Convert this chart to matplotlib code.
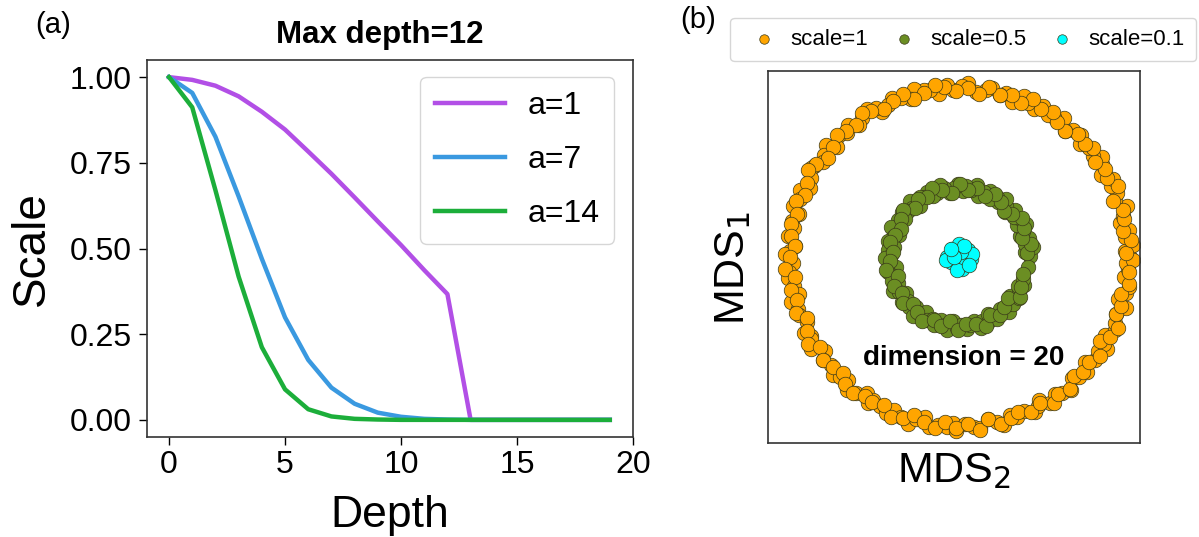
import numpy as np
import matplotlib
matplotlib.use("Agg")
import matplotlib.pyplot as plt

plt.rcParams['font.family'] = ['Liberation Sans', 'DejaVu Sans']

#%% data for panel (a)
depth = list(range(20))
scale_a1 = [1.0, 0.992, 0.975, 0.944, 0.899, 0.847, 0.783, 0.718, 0.649, 0.579, 0.51, 0.437, 0.367,
            0.0, 0.0, 0.0, 0.0, 0.0, 0.0, 0.0]
scale_a7 = [1.0, 0.954, 0.826, 0.652, 0.47, 0.299, 0.175, 0.094, 0.047, 0.021, 0.009, 0.003, 0.001,
            0.0, 0.0, 0.0, 0.0, 0.0, 0.0, 0.0]
scale_a14 = [1.0, 0.912, 0.67, 0.418, 0.212, 0.089, 0.031, 0.01, 0.003, 0.001, 0.0, 0.0, 0.0,
             0.0, 0.0, 0.0, 0.0, 0.0, 0.0, 0.0]
line_labels = ["a=1", "a=7", "a=14"]
line_colors = ["#b24fe6", "#3a99e0", "#1cae3a"]

#%% data for panel (b): MDS points read off as (angle in degrees, radius)
orange_deg = [0, 2, 4, 7, 9, 12, 14, 17, 20, 22, 25, 27,
              30, 33, 35, 37, 40, 43, 45, 48, 50, 53, 56, 58,
              61, 63, 66, 68, 71, 74, 76, 79, 81, 84, 87, 89,
              92, 94, 97, 100, 102, 105, 107, 110, 113, 115, 118, 119,
              122, 125, 127, 130, 132, 135, 138, 140, 143, 145, 148, 149,
              152, 155, 157, 160, 163, 165, 168, 170, 173, 176, 178, 179,
              182, 185, 187, 190, 193, 195, 198, 200, 203, 206, 208, 209,
              212, 215, 217, 220, 223, 225, 228, 230, 233, 236, 238, 239,
              242, 245, 247, 250, 253, 255, 258, 260, 263, 266, 268, 269,
              272, 275, 277, 280, 283, 285, 288, 290, 293, 296, 298, 299,
              302, 305, 307, 310, 313, 315, 318, 320, 323, 326, 328, 329,
              332, 335, 337, 340, 343, 345, 348, 350, 353, 356, 358, 359,
              1.5, 5.5, 9, 13, 16, 20, 24, 28, 31, 35, 39, 42,
              46, 50, 54, 57, 61, 65, 68, 72, 76, 80, 83, 87,
              91, 95, 98, 102, 106, 109, 113, 117, 121, 124, 128, 132,
              135, 139, 143, 147, 150, 154, 158, 161, 165, 169, 173, 176,
              180, 184, 187, 191, 195, 199, 202, 206, 210, 213, 217, 221,
              225, 228, 232, 236, 239, 243, 247, 251, 254, 258, 262, 265,
              269, 273, 277, 280, 284, 288, 291, 295, 299, 303, 306, 310,
              314, 317, 321, 325, 329, 332, 336, 340, 343, 347, 351, 355]
orange_r = [1.01, 0.98, 1.03, 0.99, 1.02, 0.97, 1.00, 1.04, 0.98, 1.01, 0.99, 1.02,
            0.97, 1.01, 1.03, 0.99, 1.00, 0.98, 1.02, 1.01, 0.97, 1.03, 1.00, 0.99,
            1.02, 0.98, 1.00, 1.03, 0.97, 1.01, 0.99, 1.02, 1.00, 0.98, 1.03, 1.01,
            0.99, 1.02, 0.97, 1.00, 1.01, 1.03, 0.98, 1.00, 1.02, 0.99, 0.97, 1.01,
            1.03, 1.00, 0.98, 1.02, 0.99, 1.01, 0.97, 1.03, 1.00, 0.98, 1.01, 1.02,
            0.99, 0.97, 1.02, 1.00, 1.03, 0.98, 1.01, 0.99, 1.02, 0.97, 1.00, 1.03,
            0.98, 1.01, 1.02, 0.99, 0.97, 1.03, 1.00, 1.01, 0.98, 1.02, 0.99, 1.00,
            1.03, 0.97, 1.01, 0.99, 1.02, 1.00, 0.98, 1.03, 1.01, 0.97, 1.02, 0.99,
            1.00, 1.02, 0.98, 1.01, 1.03, 0.99, 0.97, 1.02, 1.00, 1.01, 0.98, 1.03,
            0.99, 1.01, 1.02, 0.97, 1.00, 1.03, 0.98, 1.01, 0.99, 1.02, 1.00, 0.97,
            1.02, 0.99, 1.01, 1.03, 0.98, 1.00, 1.02, 0.97, 1.01, 0.99, 1.03, 1.00,
            0.98, 1.02, 1.00, 0.99, 1.03, 0.97, 1.01, 1.02, 0.98, 1.00, 0.99, 1.03,
            0.99, 1.02, 0.98, 1.00, 1.01, 0.97, 1.03, 0.99, 1.01, 0.98, 1.02, 1.00,
            1.01, 0.97, 0.99, 1.02, 1.00, 1.03, 0.98, 1.01, 0.99, 1.02, 0.97, 1.00,
            0.98, 1.01, 1.03, 0.99, 0.97, 1.02, 1.00, 0.98, 1.01, 1.03, 0.99, 1.00,
            1.02, 0.99, 0.97, 1.01, 1.03, 1.00, 0.98, 1.02, 0.99, 1.01, 1.00, 0.97,
            1.00, 1.03, 0.98, 1.01, 0.99, 1.02, 0.97, 1.00, 1.03, 0.98, 1.01, 0.99,
            0.97, 1.01, 1.02, 0.99, 1.00, 0.98, 1.03, 1.01, 0.97, 1.00, 1.02, 0.98,
            1.01, 0.99, 1.03, 0.97, 1.02, 1.00, 0.98, 1.01, 0.99, 1.03, 1.00, 1.02,
            0.98, 1.00, 0.99, 1.02, 0.97, 1.01, 1.03, 0.99, 1.00, 0.98, 1.02, 1.01]

green_deg = [1, 4, 8, 11, 15, 19, 22, 26, 29, 33, 36, 40, 44, 47, 51, 55,
             58, 62, 65, 69, 73, 76, 80, 84, 87, 91, 94, 98, 102, 105, 109, 113,
             116, 120, 123, 127, 131, 134, 138, 142, 145, 149, 152, 156, 160, 163, 167, 171,
             174, 178, 181, 185, 189, 192, 196, 200, 203, 207, 210, 214, 218, 221, 225, 229,
             232, 236, 239, 243, 247, 250, 254, 258, 261, 265, 268, 272, 276, 279, 283, 287,
             290, 294, 297, 301, 305, 308, 312, 316, 319, 323, 326, 330, 334, 337, 341, 352,
             3, 10, 17, 24, 32, 39, 46, 53, 60, 67, 75, 82,
             89, 96, 104, 111, 118, 125, 132, 140, 147, 154, 161, 168,
             176, 183, 190, 197, 204, 212, 219, 226, 233, 240, 248, 255,
             262, 269, 276, 284, 291, 298, 305, 312, 320, 327, 334, 345]
green_r = [0.42, 0.39, 0.44, 0.40, 0.43, 0.38, 0.41, 0.44, 0.39, 0.42, 0.40, 0.43,
           0.38, 0.41, 0.44, 0.40, 0.42, 0.39, 0.43, 0.41, 0.38, 0.44, 0.40, 0.42,
           0.39, 0.43, 0.41, 0.38, 0.42, 0.44, 0.40, 0.39, 0.43, 0.41, 0.42, 0.38,
           0.44, 0.40, 0.41, 0.43, 0.39, 0.42, 0.40, 0.44, 0.38, 0.41, 0.43, 0.39,
           0.42, 0.40, 0.44, 0.41, 0.38, 0.43, 0.40, 0.42, 0.39, 0.44, 0.41, 0.38,
           0.43, 0.40, 0.42, 0.39, 0.44, 0.41, 0.38, 0.42, 0.40, 0.43, 0.39, 0.41,
           0.44, 0.38, 0.42, 0.40, 0.43, 0.41, 0.39, 0.44, 0.40, 0.42, 0.38, 0.43,
           0.41, 0.39, 0.44, 0.40, 0.42, 0.38, 0.43, 0.41, 0.39, 0.42, 0.40, 0.41,
           0.40, 0.43, 0.39, 0.42, 0.44, 0.40, 0.38, 0.41, 0.43, 0.39, 0.42, 0.40,
           0.43, 0.38, 0.41, 0.44, 0.40, 0.42, 0.39, 0.43, 0.41, 0.38, 0.40, 0.42,
           0.39, 0.41, 0.44, 0.38, 0.42, 0.40, 0.43, 0.39, 0.41, 0.44, 0.40, 0.42,
           0.38, 0.43, 0.40, 0.41, 0.44, 0.39, 0.42, 0.40, 0.38, 0.43, 0.41, 0.39]

cyan_x = [0.00, 0.04, -0.04, 0.07, -0.07, 0.02, -0.02, 0.05, -0.05, 0.00,
          0.04, -0.04, 0.075, -0.075, 0.01, -0.01, 0.03, -0.03, 0.06, -0.05]
cyan_y = [0.00, 0.05, 0.05, -0.01, 0.00, -0.07, -0.05, 0.04, -0.03, 0.075,
          -0.04, 0.01, 0.02, -0.02, 0.03, -0.075, 0.065, 0.00, -0.05, 0.05]

scatter_labels = ["scale=1", "scale=0.5", "scale=0.1"]
scatter_colors = ["#ffa500", "#6b8e23", "#00ffff"]

#%% figure
fig = plt.figure(figsize=(11.99, 5.37), dpi=100)

# ---------- panel (a) ----------
ax1 = fig.add_axes([147/1199, 1 - 437/537, 486/1199, 377/537])
for vals, lab, col in zip([scale_a1, scale_a7, scale_a14], line_labels, line_colors):
    ax1.plot(depth, vals, color=col, lw=3.2, label=lab)
ax1.set_ylim(-0.05, 1.05)
ax1.set_xticks([0, 5, 10, 15, 20])
ax1.set_yticks([0.0, 0.25, 0.5, 0.75, 1.0])
ax1.set_yticklabels(["0.00", "0.25", "0.50", "0.75", "1.00"])
ax1.tick_params(labelsize=23, length=6, width=1)
ax1.tick_params(axis='y', pad=5)
ax1.set_xlabel("Depth", fontsize=32, labelpad=11)
ax1.set_ylabel("Scale", fontsize=33, labelpad=11)
ax1.set_title("Max depth=12", fontsize=22.5, fontweight='bold', pad=12,
              x=(380 - 147) / 486)
for sp in ax1.spines.values():
    sp.set_color('#333333')
    sp.set_linewidth(1.2)
ax1.legend(loc='upper right', fontsize=23, handlelength=2.2, handletextpad=0.7,
           labelspacing=0.75, borderpad=0.45, borderaxespad=0,
           bbox_to_anchor=((614 - 147) / 486, (437 - 77) / 377))
fig.text(35/1199, 1 - 25/537, "(a)", fontsize=21, va='center')

# ---------- panel (b) ----------
ax2 = fig.add_axes([768/1199, 1 - 443/537, 372/1199, 372/537])
ox = np.array(orange_r) * np.cos(np.deg2rad(orange_deg))
oy = np.array(orange_r) * np.sin(np.deg2rad(orange_deg))
gx = np.array(green_r) * np.cos(np.deg2rad(green_deg))
gy = np.array(green_r) * np.sin(np.deg2rad(green_deg))
pts = [(ox, oy), (gx, gy), (np.array(cyan_x), np.array(cyan_y))]
for (px, py), lab, col in zip(pts, scatter_labels, scatter_colors):
    ax2.scatter(px, py, s=110, color=col, edgecolor='#3a3a1a', linewidth=0.5, label=lab)
ax2.set_xlim(-1.13, 1.07)
ax2.set_ylim(-1.10, 1.10)
ax2.set_xticks([])
ax2.set_yticks([])
ax2.set_xlabel("MDS$_2$", fontsize=31, labelpad=6)
ax2.set_ylabel("MDS$_1$", fontsize=31, labelpad=4)
ax2.yaxis.set_label_coords(-0.04, 0.47)
ax2.text(0.03, -0.6, "dimension = 20", fontsize=20, fontweight='bold', ha='center', va='center')
for sp in ax2.spines.values():
    sp.set_color('#333333')
    sp.set_linewidth(1.2)
ax2.legend(loc='center', ncol=3, fontsize=16, bbox_to_anchor=(0.525, 1.085),
           handletextpad=0.2, columnspacing=0.6, markerscale=0.65, borderpad=0.5)
fig.text(680/1199, 1 - 20/537, "(b)", fontsize=21, va='center')

fig.savefig("out.png", dpi=100)
